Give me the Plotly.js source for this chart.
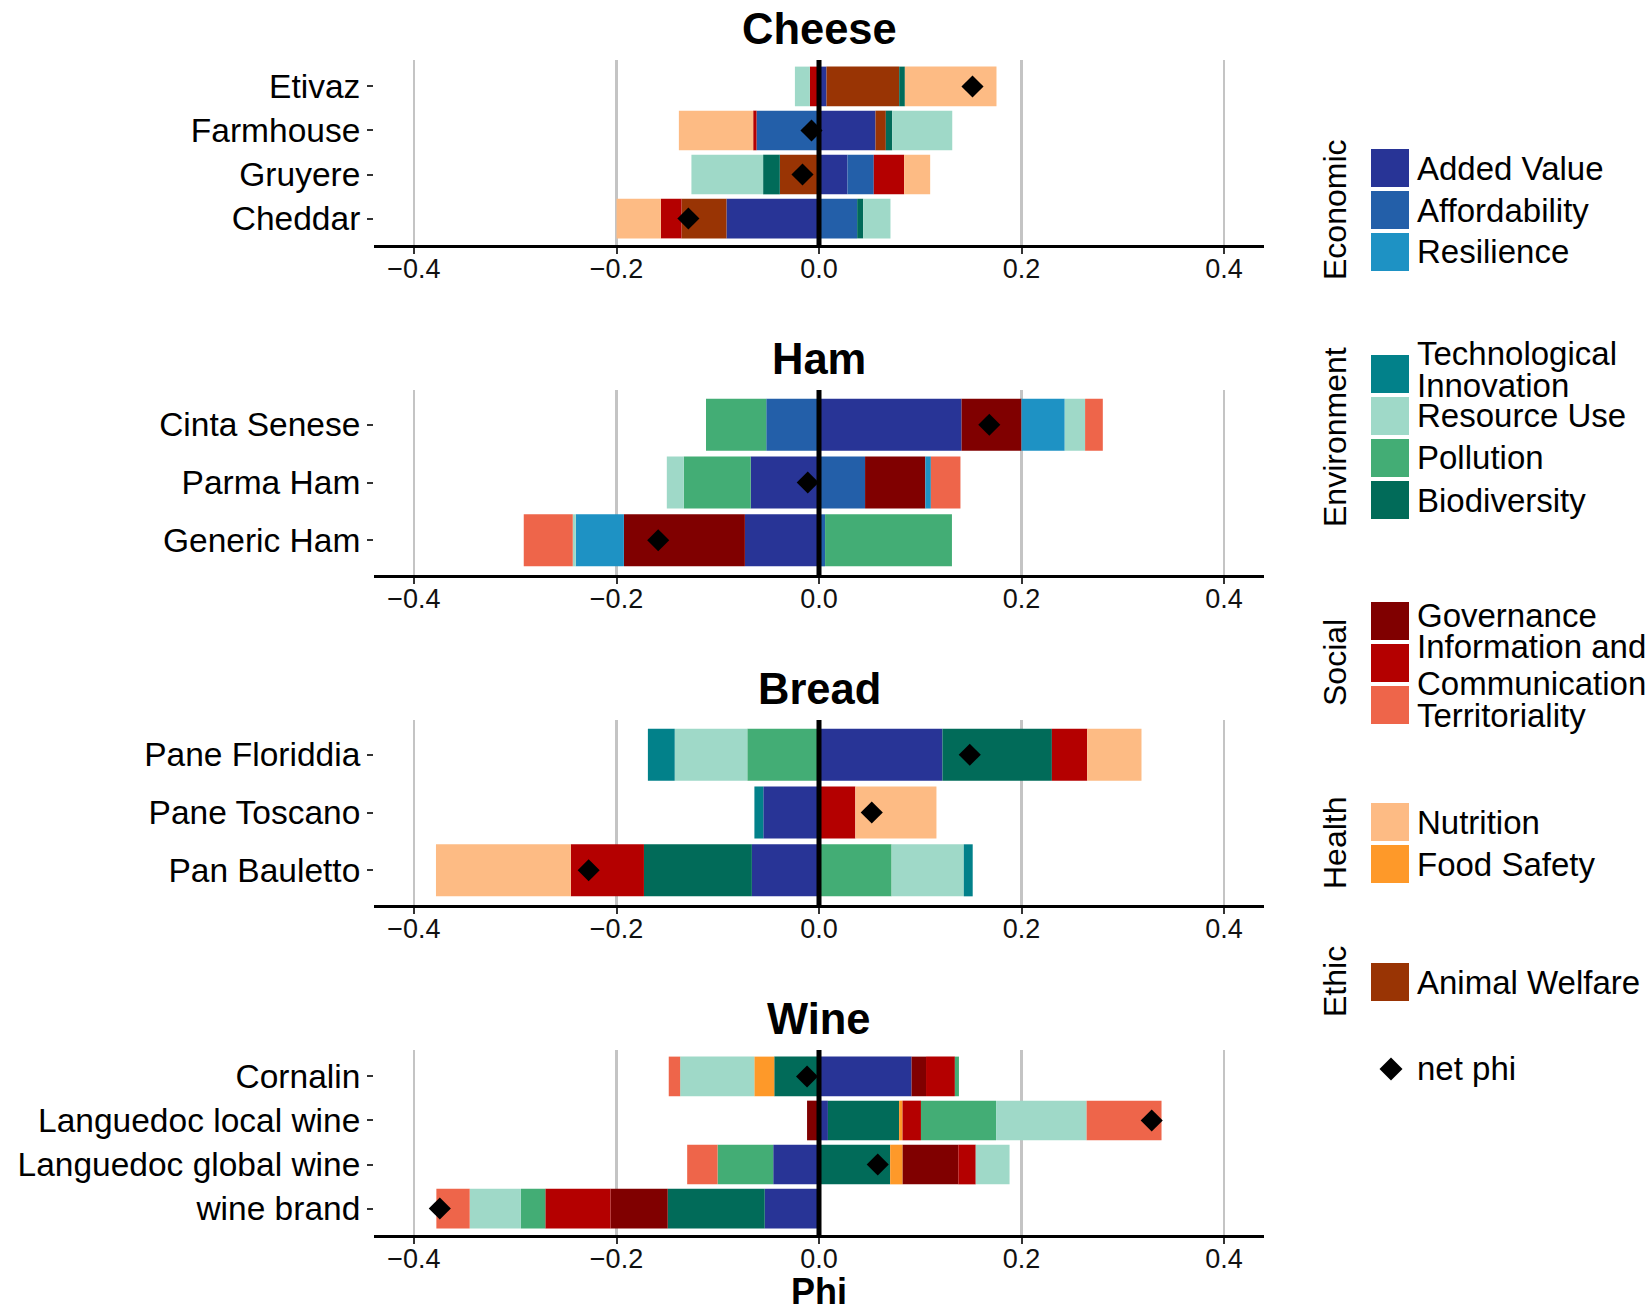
<!DOCTYPE html>
<html>
<head>
<meta charset="utf-8">
<script src="https://cdn.plot.ly/plotly-3.0.1.min.js"></script>
<style>html,body{margin:0;padding:0;background:#fff;}#chart{width:1651px;height:1308px;}</style>
</head>
<body>
<div id="chart"></div>
<script>
// ---------------- DATA ----------------
const panels = ['Cheese', 'Ham', 'Bread', 'Wine'];
const products = ['Etivaz', 'Farmhouse', 'Gruyere', 'Cheddar',
  'Cinta Senese', 'Parma Ham', 'Generic Ham',
  'Pane Floriddia', 'Pane Toscano', 'Pan Bauletto',
  'Cornalin', 'Languedoc local wine', 'Languedoc global wine', 'wine brand'];
const productPanel = ['Cheese', 'Cheese', 'Cheese', 'Cheese',
  'Ham', 'Ham', 'Ham',
  'Bread', 'Bread', 'Bread',
  'Wine', 'Wine', 'Wine', 'Wine'];

// indicator contributions to phi, one value per product (same order as products)
const addedValue     = [0.0074, 0.0558, 0.0281, -0.0914, 0.1408, -0.0674, -0.0732, 0.1219, -0.0550, -0.0663, 0.0914, 0.0088, -0.0452, -0.0536];
const affordability  = [0, -0.0617, 0.0260, 0.0377, -0.0521, 0.0455, 0.0060, 0, 0, 0, 0, 0, 0, 0];
const animalWelfare  = [0.0718, 0.0102, -0.0387, -0.0444, 0, 0, 0, 0, 0, 0, 0, 0, 0, 0];
const biodiversity   = [0.0056, 0.0063, -0.0165, 0.0059, 0, 0, 0, 0.1081, 0, -0.1066, -0.0442, 0.0703, 0.0703, -0.0958];
const foodSafety     = [0, 0, 0, 0, 0, 0, 0, 0, 0, 0, -0.0197, 0.0034, 0.0123, 0.0020];
const governance     = [0, 0, 0, 0, 0.0592, 0.0595, -0.1195, 0, 0, 0, 0.0143, -0.0118, 0.0550, -0.0565];
const information    = [-0.0090, -0.0033, 0.0300, -0.0204, 0, 0, 0, 0.0349, 0.0359, -0.0722, 0.0285, 0.0182, 0.0172, -0.0644];
const nutrition      = [0.0905, -0.0734, 0.0257, -0.0438, 0, 0, 0, 0.0536, 0.0801, -0.1332, 0, 0, 0, 0];
const pollution      = [0, 0, 0, 0, -0.0595, -0.0661, 0.1253, -0.0708, 0, 0.0717, 0.0040, 0.0742, -0.0550, -0.0241];
const resilience     = [0, 0, 0, 0, 0.0427, 0.0055, -0.0475, 0, 0, 0, 0, 0, 0, 0];
const resourceUse    = [-0.0148, 0.0593, -0.0708, 0.0270, 0.0201, -0.0168, -0.0030, -0.0717, 0, 0.0713, -0.0732, 0.0894, 0.0334, -0.0506];
const techInnovation = [0, 0, 0, 0, 0, 0, 0, -0.0265, -0.0088, 0.0088, 0, 0, 0, 0];
const territoriality = [0, 0, 0, 0, 0.0175, 0.0292, -0.0484, 0, 0, 0, -0.0113, 0.0740, -0.0300, -0.0329];
const netPhi         = [0.1516, -0.0074, -0.0163, -0.1290, 0.1682, -0.0111, -0.1588, 0.1489, 0.0521, -0.2275, -0.0118, 0.3286, 0.0580, -0.3745];

// stacking order (alphabetical, from zero outwards)
const indicators = ['Added Value', 'Affordability', 'Animal Welfare', 'Biodiversity', 'Food Safety',
  'Governance', 'Information and Communication', 'Nutrition', 'Pollution', 'Resilience',
  'Resource Use', 'Technological Innovation', 'Territoriality'];
const indicatorValues = [addedValue, affordability, animalWelfare, biodiversity, foodSafety,
  governance, information, nutrition, pollution, resilience,
  resourceUse, techInnovation, territoriality];

// legend groups
const legendGroups = ['Economic', 'Environment', 'Social', 'Health', 'Ethic'];
const legendItems = [
  ['Added Value', 'Affordability', 'Resilience'],
  ['Technological Innovation', 'Resource Use', 'Pollution', 'Biodiversity'],
  ['Governance', 'Information and Communication', 'Territoriality'],
  ['Nutrition', 'Food Safety'],
  ['Animal Welfare']
];
const legendLabelLines = {
  'Technological Innovation': ['Technological', 'Innovation'],
  'Information and Communication': ['Information and', 'Communication']
};

// ---------------- STYLE ----------------
const colors = {
  'Added Value': '#283496', 'Affordability': '#235fa9', 'Resilience': '#1e92c4',
  'Technological Innovation': '#02818a', 'Resource Use': '#9fd9c8', 'Pollution': '#43ad75', 'Biodiversity': '#016b59',
  'Governance': '#800000', 'Information and Communication': '#b40000', 'Territoriality': '#ee654a',
  'Nutrition': '#fdbb84', 'Food Safety': '#fe9929', 'Animal Welfare': '#993404'
};
const W = 1651, H = 1308;
const FONT = 'Liberation Sans, Arial, Helvetica, sans-serif';
const px = v => v / W;
const py = v => 1 - v / H;
const panelTop = [60, 390, 720, 1050];
const panelHeight = 185;
const xLeft = 374, xRight = 1264;
const xRange = [-0.4395, 0.4395];
// legend layout (pixels)
const legendGroupTop = [149, 355, 602, 803, 963];
const legendLabelOffset = {
  'Technological Innovation': [-21, 11], 'Governance': [-6],
  'Information and Communication': [-17, 20], 'Territoriality': [10]
};

// ---------------- BUILD ----------------
const traces = [];
const layout = {
  width: W, height: H,
  margin: {l: 0, r: 0, t: 0, b: 0},
  paper_bgcolor: '#fff', plot_bgcolor: '#fff',
  barmode: 'relative', bargap: 0.1,
  showlegend: false,
  font: {family: FONT, color: '#000'},
  shapes: [], annotations: []
};

panels.forEach((panel, p) => {
  const idx = products.map((_, i) => i).filter(i => productPanel[i] === panel);
  const names = idx.map(i => products[i]);
  const sfx = p === 0 ? '' : String(p + 1);
  const xa = 'x' + sfx, ya = 'y' + sfx;

  indicators.forEach((ind, k) => {
    traces.push({
      type: 'bar', orientation: 'h', name: ind,
      x: idx.map(i => indicatorValues[k][i]), y: names,
      xaxis: xa, yaxis: ya,
      marker: {color: colors[ind], line: {width: 0}},
      hovertemplate: '%{y}<br>' + ind + ': %{x:.3f}<extra></extra>'
    });
  });
  traces.push({
    type: 'scatter', mode: 'markers', name: 'net phi',
    x: idx.map(i => netPhi[i]), y: names,
    xaxis: xa, yaxis: ya,
    marker: {symbol: 'diamond', size: 17, color: '#000', line: {width: 0}},
    hovertemplate: '%{y}<br>net phi: %{x:.3f}<extra></extra>'
  });

  const top = panelTop[p], bottom = top + panelHeight;
  layout['xaxis' + sfx] = {
    domain: [px(xLeft), px(xRight)], anchor: ya, range: xRange,
    tickmode: 'array', tickvals: [-0.4, -0.2, 0, 0.2, 0.4], tickformat: '.1f',
    showgrid: true, gridcolor: '#c4c4c4', gridwidth: 2.5, zeroline: false,
    showline: true, linecolor: '#000', linewidth: 2.5,
    ticks: 'outside', ticklen: 6, tickwidth: 2, tickcolor: '#333',
    ticklabelstandoff: -8,
    tickfont: {size: 27, color: '#111', family: FONT},
    fixedrange: true
  };
  layout['yaxis' + sfx] = {
    domain: [py(bottom), py(top)], anchor: xa, type: 'category',
    categoryorder: 'array', categoryarray: names,
    range: [names.length - 0.4, -0.6],
    showgrid: false, zeroline: false, showline: false,
    ticks: 'outside', ticklen: 6, tickwidth: 2, tickcolor: '#333',
    ticklabelstandoff: 0,
    tickfont: {size: 33.5, color: '#000', family: FONT},
    fixedrange: true
  };
  layout.shapes.push({
    type: 'line', xref: xa, yref: ya + ' domain', x0: 0, x1: 0, y0: 0, y1: 1,
    line: {color: '#000', width: 5}, layer: 'above'
  });
  layout.annotations.push({
    text: '<b>' + panel + '</b>', xref: 'paper', yref: 'paper',
    x: px((xLeft + xRight) / 2), y: py(top - 31), xanchor: 'center', yanchor: 'middle',
    showarrow: false, font: {size: 43.5, color: '#000', family: FONT}
  });
});

// x axis title
layout.annotations.push({
  text: '<b>Phi</b>', xref: 'paper', yref: 'paper',
  x: px((xLeft + xRight) / 2), y: py(1291), xanchor: 'center', yanchor: 'middle',
  height: 30, valign: 'middle',
  showarrow: false, font: {size: 36, color: '#000', family: FONT}
});

// custom grouped legend
legendGroups.forEach((g, gi) => {
  const items = legendItems[gi];
  const top = legendGroupTop[gi];
  items.forEach((item, j) => {
    const y0 = top + j * 42, y1 = y0 + 38, c = (y0 + y1) / 2;
    layout.shapes.push({
      type: 'rect', xref: 'paper', yref: 'paper',
      x0: px(1371), x1: px(1409), y0: py(y1), y1: py(y0),
      fillcolor: colors[item], line: {width: 0}
    });
    const lines = legendLabelLines[item] || [item];
    const offs = legendLabelOffset[item] || [0];
    lines.forEach((ln, li) => {
      layout.annotations.push({
        text: ln, xref: 'paper', yref: 'paper',
        x: px(1415), y: py(c + offs[li]), xanchor: 'left', yanchor: 'middle',
        showarrow: false, font: {size: 33, color: '#000', family: FONT}
      });
    });
  });
  const gTop = top, gBottom = top + items.length * 42 - 4;
  layout.annotations.push({
    text: g, xref: 'paper', yref: 'paper', textangle: -90,
    x: px(1335), y: py((gTop + gBottom) / 2), xanchor: 'center', yanchor: 'middle',
    showarrow: false, font: {size: 32, color: '#000', family: FONT}
  });
});
// net phi legend key
(function () {
  const cx = 1391, cy = 1069, r = 11.5;
  layout.shapes.push({
    type: 'path', xref: 'paper', yref: 'paper',
    path: 'M ' + px(cx - r) + ' ' + py(cy) + ' L ' + px(cx) + ' ' + py(cy - r) +
          ' L ' + px(cx + r) + ' ' + py(cy) + ' L ' + px(cx) + ' ' + py(cy + r) + ' Z',
    fillcolor: '#000', line: {width: 0}
  });
  layout.annotations.push({
    text: 'net phi', xref: 'paper', yref: 'paper',
    x: px(1415), y: py(1068), xanchor: 'left', yanchor: 'middle',
    showarrow: false, font: {size: 33, color: '#000', family: FONT}
  });
})();

Plotly.newPlot('chart', traces, layout, {displayModeBar: false, staticPlot: true});
</script>
</body>
</html>
